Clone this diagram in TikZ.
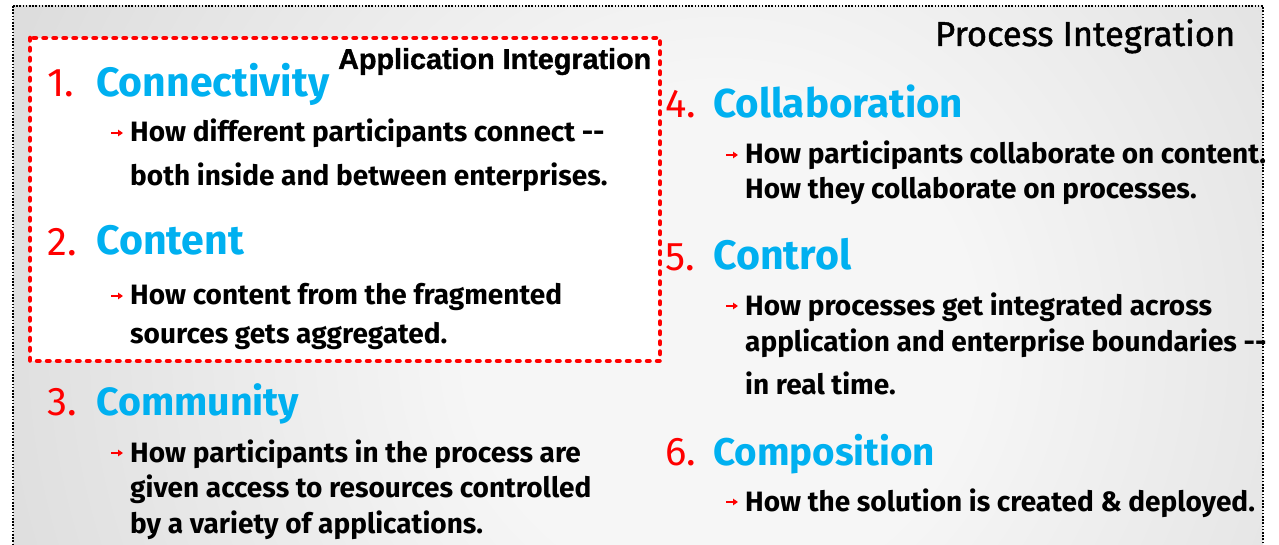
\documentclass[tikz,border=0pt]{standalone}
\usepackage{fontspec}
\usepackage{graphicx}
\newfontfamily\comic{Fira Sans}
\newfontfamily\comicmed{Fira Sans}[FakeBold=1.3]
\newfontfamily\appfont{Liberation Sans}[BoldFeatures={FakeBold=1.2}]
\usetikzlibrary{arrows.meta}
\definecolor{hblue}{HTML}{00B0F0}
\definecolor{hred}{HTML}{FF0000}
\definecolor{bgedge}{HTML}{BCBCBC}
\definecolor{bgmid}{HTML}{F6F6F6}
\pgfdeclareradialshading{bgshade}{\pgfpoint{0bp}{0bp}}{color(0bp)=(bgmid); color(7bp)=(bgmid); color(40bp)=(bgedge); color(50bp)=(bgedge)}
\newcommand{\fitw}[2]{\resizebox{#1pt}{!}{#2}}
\begin{document}
\begin{tikzpicture}[x=1pt,y=-1pt,
  body/.style={anchor=base west, inner sep=0pt, font=\comic\bfseries\fontsize{28}{32}\selectfont, text=black},
  head/.style={anchor=base west, inner sep=0pt, font=\comic\bfseries\fontsize{40}{44}\selectfont, text=hblue},
  num/.style={anchor=base west, inner sep=0pt, font=\comic\fontsize{40}{44}\selectfont, text=hred},
  bullet/.style={draw=hred, line width=2pt, -{Triangle[length=5pt,width=6.5pt]}},
  title/.style={anchor=base west, inner sep=0pt, text=black}
]
\useasboundingbox (0,0) rectangle (1279,545);
\fill[white] (0,0) rectangle (1279,545);
\begin{scope}
  \clip (13,6) rectangle (1263,560);
  \fill[bgedge] (13,6) rectangle (1263,560);
  \shade[shading=bgshade] (720,340) circle (900);
\end{scope}
\draw[black, line width=1.6pt, dash pattern=on 1.6pt off 1.6pt] (13,6) rectangle (1263,560);
\draw[hred, fill=white, line width=4.5pt, dash pattern=on 2.5pt off 7.5pt, line cap=round] (30,38) rectangle (660,361);

% titles
\node[title, font=\comicmed\fontsize{30}{34}\selectfont] (pi) at (935,46) {\fitw{300}{Process Integration}};
\node[title, font=\appfont\bfseries\fontsize{22}{26}\selectfont] (ai) at (338,69) {\fitw{313}{Application Integration}};

% left column
\node[num] (n1) at (47,97) {1.};
\node[head] (h1) at (96,97) {\fitw{233}{Connectivity}};
\node[body] (b1a) at (130,142) {How different participants connect -{}-};
\node[body] (b1b) at (130,186) {both inside and between enterprises.};

\node[num] (n2) at (47,255) {2.};
\node[head] (h2) at (96,255) {\fitw{148}{Content}};
\node[body] (b2a) at (130,305) {How content from the fragmented};
\node[body] (b2b) at (130,343) {sources gets aggregated.};

\node[num] (n3) at (47,415) {3.};
\node[head] (h3) at (96,415) {\fitw{203}{Community}};
\node[body] (b3a) at (130,462) {How participants in the process are};
\node[body] (b3b) at (130,497) {given access to resources controlled};
\node[body] (b3c) at (130,533) {by a variety of applications.};

% right column
\node[num] (n4) at (665,118) {4.};
\node[head] (h4) at (713,118) {\fitw{250}{Collaboration}};
\node[body] (b4a) at (745,164) {How participants collaborate on content.};
\node[body] (b4b) at (745,199) {How they collaborate on processes.};

\node[num] (n5) at (665,270) {5.};
\node[head] (h5) at (713,270) {\fitw{138}{Control}};
\node[body] (b5a) at (745,315) {How processes get integrated across};
\node[body] (b5b) at (745,351) {application and enterprise boundaries -{}-};
\node[body] (b5c) at (745,394) {in real time.};

\node[num] (n6) at (665,465) {6.};
\node[head] (h6) at (713,465) {\fitw{222}{Composition}};
\node[body] (b6a) at (745,511) {How the solution is created \& deployed.};

% bullets
\foreach \b in {b1a,b2a,b3a,b4a,b5a,b6a}
  \draw[bullet] ([shift={(-19,-9)}]\b.base west) -- ++(12,0);
\end{tikzpicture}
\end{document}
